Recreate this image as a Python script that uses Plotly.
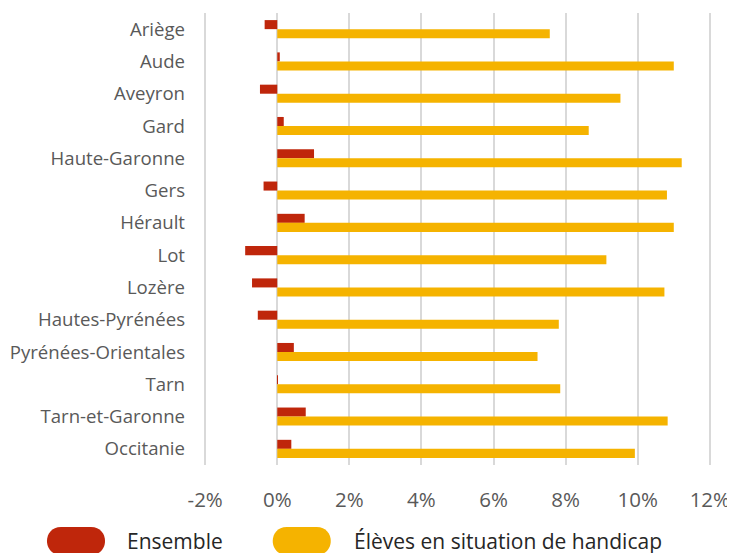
import plotly.graph_objects as go

categories = ["Ariège", "Aude", "Aveyron", "Gard", "Haute-Garonne", "Gers", "Hérault",
              "Lot", "Lozère", "Hautes-Pyrénées", "Pyrénées-Orientales", "Tarn",
              "Tarn-et-Garonne", "Occitanie"]
ensemble = [-0.35, 0.07, -0.48, 0.18, 1.02, -0.38, 0.76, -0.89, -0.70, -0.54, 0.46, 0.01, 0.79, 0.39]
handicap = [7.56, 11.0, 9.52, 8.64, 11.22, 10.81, 11.0, 9.13, 10.74, 7.81, 7.22, 7.85, 10.83, 9.92]
tick_vals = [-2, 0, 2, 4, 6, 8, 10, 12]
tick_text = ["-2%", "0%", "2%", "4%", "6%", "8%", "10%", "12%"]
series_names = ["Ensemble", "Élèves en situation de handicap"]
colors = ["#BF260B", "#F5B300"]

fig = go.Figure()
fig.add_trace(go.Bar(y=categories, x=ensemble, orientation="h", name=series_names[0],
                     marker=dict(color=colors[0], line=dict(width=0))))
fig.add_trace(go.Bar(y=categories, x=handicap, orientation="h", name=series_names[1],
                     marker=dict(color=colors[1], line=dict(width=0))))

font_family = "Open Sans"
label_color = "#595959"

# page has an 8px body margin, so the figure is sized 8px smaller
fig.update_layout(
    width=727, height=545,
    margin=dict(l=195, r=23, t=5, b=88),
    paper_bgcolor="white", plot_bgcolor="white",
    barmode="group", bargap=0.44, bargroupgap=0,
    showlegend=False,
    font=dict(family=font_family, color=label_color),
    xaxis=dict(range=[-2.06, 12.06], tickvals=tick_vals, ticktext=tick_text,
               showgrid=True, gridcolor="#D9D9D9", gridwidth=2,
               zeroline=True, zerolinecolor="#D9D9D9", zerolinewidth=2,
               tickfont=dict(size=20.5, color=label_color), ticks="", ticklabelstandoff=20,
               automargin=False),
    yaxis=dict(autorange="reversed", showgrid=False, zeroline=False, automargin=False,
               tickfont=dict(size=18.6, color=label_color), ticks="", ticklabelstandoff=17),
)

# custom legend (pill markers + labels)
pill = "M -15,-14 L 15,-14 C 33.7,-14 33.7,14 15,14 L -15,14 C -33.7,14 -33.7,-14 -15,-14 Z"
legend_x = [-0.2495, 0.194]
text_x = [-0.1525, 0.293]
for i in range(2):
    fig.add_shape(type="path", xref="paper", yref="paper", xsizemode="pixel", ysizemode="pixel",
                  xanchor=legend_x[i], yanchor=-0.168, path=pill,
                  fillcolor=colors[i], line=dict(width=0))
    fig.add_annotation(x=text_x[i], y=-0.168, xref="paper", yref="paper", xanchor="left",
                       yanchor="middle", text=series_names[i], showarrow=False,
                       font=dict(size=21, color="#262626", family=font_family))

fig.write_html("out.html")
